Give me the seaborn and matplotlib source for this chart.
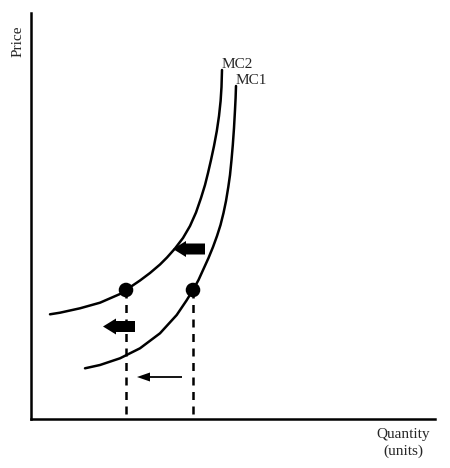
import matplotlib
matplotlib.use("Agg")
import matplotlib.pyplot as plt
import seaborn as sns
import pandas as pd

# curve points (quantity, price)
mc2_qty = [19, 29, 49, 69, 89, 95, 109, 119, 129, 136, 144, 152, 159, 165, 170, 174, 177, 180,
           183, 185.8, 188, 189.6, 190.5, 191]
mc2_price = [104.2, 105.8, 110.2, 115.8, 124.5, 128.5, 138, 145.5, 154, 161, 170, 180.5, 192.5,
             206, 220.5, 233.5, 245.5, 258.5, 272.5, 287.5, 302.5, 317.5, 331.5, 348.5]
mc1_qty = [54, 69, 89, 109, 129, 145.7, 155.5, 162, 167.5, 172.5, 177.5, 182, 186, 189.5, 192.5,
           195, 197.3, 199, 200.5, 201.8, 203, 204, 204.6, 205]
mc1_price = [50.2, 53.5, 60.2, 70.2, 85.2, 103.5, 118, 128.5, 138.5, 149.5, 160.5, 171.5, 182.5,
             193.5, 205.5, 217.5, 231.5, 243.5, 258.5, 273.5, 290.5, 308.5, 320.5, 332.5]

# equilibrium points on each curve
dot_qty = [95, 162]
dot_price = [128.5, 128.5]

curve_labels = ["MC2", "MC1"]
label_qty = [190.7, 204.7]
label_price = [350.5, 334.2]

# shift arrows: (tail quantity, tip quantity, price)
fat_arrows = [(174, 142, 169.5), (104, 72, 92)]
thin_arrow = (151, 106, 41.5)

W, H = 450, 468
sns.set_style("white")
plt.rcParams["font.family"] = ["Liberation Serif", "DejaVu Serif"]
plt.rcParams["font.size"] = 11

fig = plt.figure(figsize=(W / 100, H / 100), dpi=100)
ax = fig.add_axes([31 / W, 1 - 418.5 / H, 404 / W, 405.5 / H])

mc2 = pd.DataFrame({"q": mc2_qty, "p": mc2_price})
mc1 = pd.DataFrame({"q": mc1_qty, "p": mc1_price})
for df in (mc2, mc1):
    sns.lineplot(data=df, x="q", y="p", ax=ax, color="black", lw=1.8, sort=False,
                 estimator=None, solid_joinstyle="round")

for q, p in zip(dot_qty, dot_price):
    ax.plot([q, q], [p, 0], color="black", lw=1.8, dashes=(3.2, 2.6))
sns.scatterplot(x=dot_qty, y=dot_price, ax=ax, color="black", s=110, edgecolor="none", zorder=5)

for txt, q, p in zip(curve_labels, label_qty, label_price):
    ax.text(q, p, txt, ha="left", va="baseline", fontsize=11)

for tail, tip, p in fat_arrows:
    ax.arrow(tail, p, tip - tail, 0, width=11, head_width=16, head_length=13,
             length_includes_head=True, color="black", lw=0)
tail, tip, p = thin_arrow
ax.arrow(tail, p, tip - tail, 0, width=1.8, head_width=9, head_length=13,
         length_includes_head=True, color="black", lw=0)

ax.set_xlim(0, 404)
ax.set_ylim(0, 405.5)
ax.set_xticks([])
ax.set_yticks([])
ax.set_xlabel("")
ax.set_ylabel("")
for side in ["top", "right"]:
    ax.spines[side].set_visible(False)
for side in ["left", "bottom"]:
    ax.spines[side].set_linewidth(1.8)
    ax.spines[side].set_color("black")

fig.text(18 / W, 1 - 41 / H, "Price", rotation=90, ha="center", va="center", fontsize=11)
fig.text(403 / W, 1 - 443 / H, "Quantity\n(units)", ha="center", va="center",
         fontsize=11, linespacing=1.25)

fig.savefig("out.png", dpi=100, facecolor="white")
